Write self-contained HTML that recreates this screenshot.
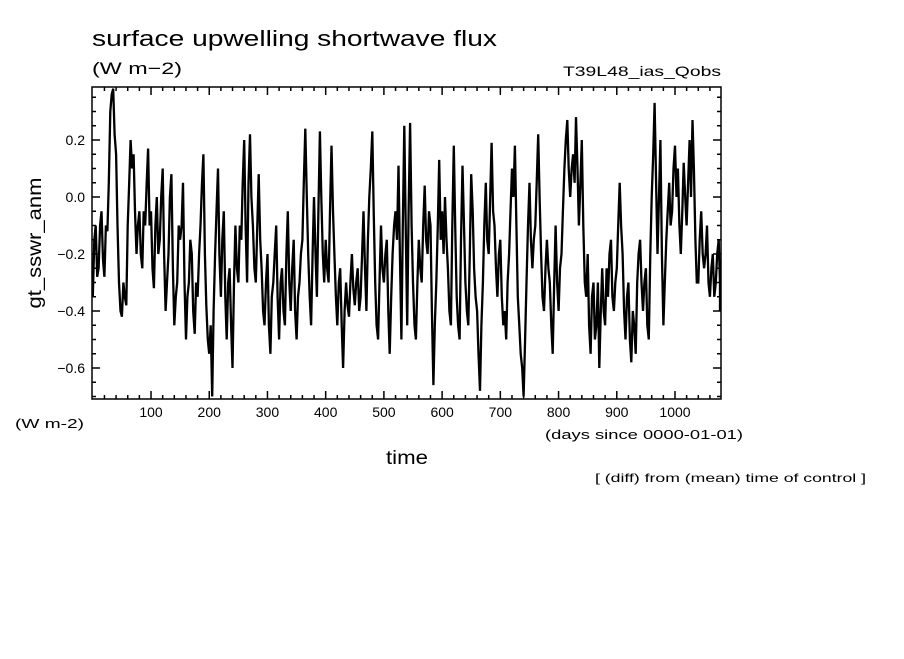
<!DOCTYPE html>
<html><head><meta charset="utf-8"><style>
body{margin:0;background:#fff;}
svg text{font-family:"Liberation Sans",sans-serif;fill:#000;}
</style></head><body>
<svg id="chart" width="904" height="654" xmlns="http://www.w3.org/2000/svg">
<rect width="904" height="654" fill="#fff"/>
<text x="92" y="46" font-size="22" textLength="405" lengthAdjust="spacingAndGlyphs">surface upwelling shortwave flux</text>
<text x="92" y="74" font-size="17" textLength="90" lengthAdjust="spacingAndGlyphs">(W m−2)</text>
<text x="563" y="76" font-size="14" textLength="158" lengthAdjust="spacingAndGlyphs">T39L48_ias_Qobs</text>
<text transform="translate(41,243) rotate(-90)" font-size="19" text-anchor="middle" textLength="131" lengthAdjust="spacingAndGlyphs">gt_sswr_anm</text>
<text x="15" y="428" font-size="13" textLength="69" lengthAdjust="spacingAndGlyphs">(W m-2)</text>
<text x="545" y="439" font-size="13" textLength="198" lengthAdjust="spacingAndGlyphs">(days since 0000-01-01)</text>
<text x="386" y="464" font-size="19" textLength="42" lengthAdjust="spacingAndGlyphs">time</text>
<text x="595" y="482" font-size="12" textLength="271" lengthAdjust="spacingAndGlyphs">[ (diff) from (mean) time of control ]</text>
<g id="ticks"></g>
<path id="series" fill="none" stroke="#000" stroke-width="2.3" stroke-linejoin="miter"/>
<rect x="92" y="87" width="629" height="312" fill="none" stroke="#000" stroke-width="1.5"/>
</svg>
<script>
const xTicks=[100,200,300,400,500,600,700,800,900,1000];
const yTicks=[0.2,0.0,-0.2,-0.4,-0.6];
const yTickLabels=["0.2","0.0","−0.2","−0.4","−0.6"];
const dayStep=5;
const values=[
-0.35,-0.1,-0.25,-0.05,-0.28,-0.12,0.3,0.38,0.15,-0.3,-0.42,-0.35,
-0.1,0.2,0.15,-0.2,-0.05,-0.25,-0.1,0.17,-0.05,-0.32,0.0,-0.15,
0.1,-0.4,-0.2,0.08,-0.45,-0.3,-0.15,0.05,-0.5,-0.3,-0.2,-0.48,
-0.35,-0.1,0.15,-0.38,-0.55,-0.7,-0.2,0.1,-0.35,-0.05,-0.5,-0.25,
-0.6,-0.1,-0.3,-0.15,0.2,-0.3,0.22,-0.1,-0.3,0.08,-0.25,-0.45,
-0.2,-0.55,-0.3,-0.1,-0.5,-0.25,-0.45,-0.05,-0.4,-0.15,-0.5,-0.3,
-0.15,0.24,-0.2,-0.45,0.0,-0.35,0.23,-0.2,-0.15,-0.3,0.18,-0.2,
-0.45,-0.25,-0.6,-0.3,-0.42,-0.2,-0.38,-0.25,-0.35,-0.05,-0.4,0.0,
0.23,-0.3,-0.5,-0.1,-0.3,-0.15,-0.55,-0.2,-0.05,0.11,-0.5,0.25,
-0.45,0.26,-0.3,-0.5,-0.15,-0.3,0.04,-0.2,-0.1,-0.66,-0.3,0.13,
-0.05,0.0,-0.25,-0.45,0.18,-0.35,-0.5,0.11,-0.3,-0.45,0.08,-0.25,
-0.4,-0.68,-0.3,0.05,-0.2,0.19,-0.1,-0.35,-0.15,-0.45,-0.5,-0.2,
0.1,0.18,-0.35,-0.55,-0.7,-0.3,0.05,-0.25,-0.1,0.22,-0.2,-0.4,
-0.15,-0.3,-0.55,-0.1,-0.4,-0.2,0.1,0.27,0.0,0.15,0.28,-0.1,
0.2,-0.3,-0.2,-0.55,-0.3,-0.45,-0.6,-0.25,-0.45,-0.35,-0.15,-0.4,
-0.25,0.05,-0.2,-0.5,-0.3,-0.58,-0.45,-0.3,-0.15,-0.4,-0.25,-0.5,
0.0,0.33,-0.2,0.2,-0.45,-0.15,0.05,-0.05,0.18,0.1,-0.2,0.12,
-0.1,0.2,0.27,-0.15,-0.3,-0.05,-0.25,-0.1,-0.35,-0.2,-0.3,-0.15,-0.4
];
const mids=[
-0.15,-0.28,-0.1,-0.22,-0.1,0.05,0.36,0.22,-0.1,-0.4,-0.3,-0.38,
0.05,0.1,-0.05,-0.1,-0.2,-0.05,0.05,-0.1,-0.25,-0.1,-0.2,0.0,
-0.2,-0.3,0.0,-0.25,-0.35,-0.1,-0.1,-0.3,-0.35,-0.15,-0.4,-0.3,
-0.2,0.05,-0.2,-0.5,-0.45,-0.4,-0.05,-0.2,-0.15,-0.35,-0.3,-0.45,
-0.3,-0.25,-0.1,0.05,-0.1,0.05,0.0,-0.25,-0.1,-0.15,-0.4,-0.3,
-0.45,-0.35,-0.2,-0.35,-0.3,-0.4,-0.2,-0.3,-0.25,-0.4,-0.35,-0.2,
0.05,0.0,-0.35,-0.2,-0.2,-0.05,0.0,-0.3,-0.25,-0.05,-0.05,-0.35,
-0.3,-0.45,-0.4,-0.38,-0.3,-0.32,-0.3,-0.4,-0.2,-0.25,-0.15,0.1,
-0.05,-0.45,-0.3,-0.25,-0.2,-0.4,-0.35,-0.1,-0.15,-0.2,-0.1,-0.1,
-0.05,-0.1,-0.45,-0.3,-0.25,-0.1,-0.15,-0.05,-0.4,-0.45,-0.1,-0.15,
-0.2,-0.15,-0.4,-0.1,-0.1,-0.45,-0.15,-0.1,-0.4,-0.2,-0.05,-0.35,
-0.55,-0.45,-0.1,-0.15,0.0,-0.05,-0.25,-0.2,-0.35,-0.4,-0.3,-0.05,
0.0,-0.1,-0.45,-0.6,-0.5,-0.1,-0.15,-0.15,0.05,0.0,-0.35,-0.25,
-0.25,-0.45,-0.3,-0.3,-0.25,-0.05,0.2,0.1,0.1,0.05,0.1,0.05,
-0.1,-0.35,-0.45,-0.35,-0.5,-0.3,-0.4,-0.4,-0.25,-0.2,-0.35,-0.3,
-0.1,-0.1,-0.4,-0.35,-0.5,-0.4,-0.55,-0.2,-0.3,-0.3,-0.45,-0.2,
0.15,0.05,0.0,-0.2,-0.3,-0.05,-0.1,0.1,0.0,-0.1,-0.05,0.0,
0.05,0.0,0.1,-0.3,-0.15,-0.2,-0.2,-0.3,-0.25,-0.35,-0.2,-0.3
];
const X0=92.8,XS=0.5822,Y0=197,YS=285;
function xs(d){return X0+d*XS;}
function ys(v){return Y0-v*YS;}
const NS="http://www.w3.org/2000/svg";
const tg=document.getElementById('ticks');
function line(x1,y1,x2,y2,name){
  const l=document.createElementNS(NS,'line');
  l.setAttribute('x1',x1);l.setAttribute('y1',y1);l.setAttribute('x2',x2);l.setAttribute('y2',y2);
  l.setAttribute('stroke','#000');l.setAttribute('stroke-width','1.5');
  
  
  tg.appendChild(l);
}
for(let d=20;d<1080;d+=20){
  const x=xs(d),len=(d%100===0)?8:4;
  line(x,399,x,399-len,'x-tick');
  line(x,87,x,87+len,'x-tick-top');
}
for(let i=-14;i<=7;i++){
  const v=i*0.05,y=ys(v);if(y<88||y>398)continue;
  const len=(i%4===0)?8:4;
  line(92,y,92+len,y,'y-tick');
  line(721,y,721-len,y,'y-tick-right');
}
xTicks.forEach(d=>{
  const t=document.createElementNS(NS,'text');
  t.setAttribute('x',xs(d));t.setAttribute('y',417);t.setAttribute('font-size','14');t.setAttribute('text-anchor','middle');
  t.textContent=d;
  
  
  document.getElementById('chart').appendChild(t);
});
yTicks.forEach((v,i)=>{
  const t=document.createElementNS(NS,'text');
  t.setAttribute('x',85);t.setAttribute('y',ys(v)+5);t.setAttribute('font-size','14');t.setAttribute('text-anchor','end');
  t.textContent=yTickLabels[i];
  
  
  document.getElementById('chart').appendChild(t);
});
function pt(d,v){
  const x=Math.min(xs(d),720),y=Math.max(88,Math.min(398,ys(v)));
  return x.toFixed(1)+' '+y.toFixed(1);
}
let dstr='';
values.forEach((v,i)=>{
  dstr+=(i?'L':'M')+pt(i*dayStep,v);
  if(i<mids.length) dstr+='L'+pt(i*dayStep+dayStep/2,mids[i]);
});
document.getElementById('series').setAttribute('d',dstr);
</script>
</body></html>
